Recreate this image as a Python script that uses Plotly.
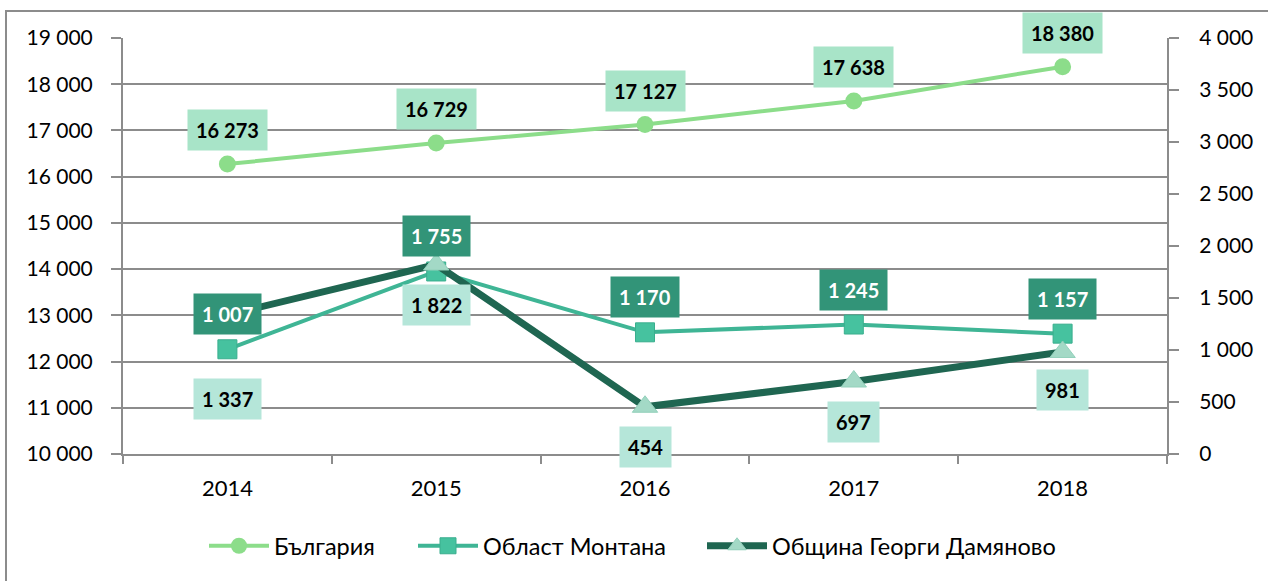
import plotly.graph_objects as go

years = ["2014", "2015", "2016", "2017", "2018"]
bulgaria = [16273, 16729, 17127, 17638, 18380]
montana = [1007, 1755, 1170, 1245, 1157]
damyanovo = [1337, 1822, 454, 697, 981]

names = ["България", "Област Монтана", "Община Георги Дамяново"]

# label offsets (px) relative to points
off_bg = [34, 34, 34, 34, 34]
off_mo = [35, 35, 35, 35, 35]
off_da = [-84, -40, -40, -40, -38]

FONT = "Lato"
GRID = "#8C8C8C"

def fmt(v):
    return f"{v:,}".replace(",", " ")

L, R, T, B = 123, 101, 38, 127
W, H = 1268, 581
pw, ph = W - L - R, H - T - B

def px_x(p):
    return (p - L) / pw

def px_y(p):
    return (H - B - p) / ph

fig = go.Figure()
fig.add_trace(go.Scatter(
    x=years, y=bulgaria, name=names[0], mode="lines+markers", legend="legend",
    line=dict(color="#8CDD8A", width=4),
    marker=dict(symbol="circle", size=17, color="#8CDD8A"),
))
fig.add_trace(go.Scatter(
    x=years, y=montana, name=names[1], mode="lines+markers", yaxis="y2", legend="legend2",
    line=dict(color="#3FB595", width=4),
    marker=dict(symbol="square", size=19, color="#46C29F",
                line=dict(color="#3AAE8E", width=1)),
))
fig.add_trace(go.Scatter(
    x=years, y=damyanovo, name=names[2], mode="lines+markers", yaxis="y2", legend="legend3",
    line=dict(color="#1F6651", width=7),
    marker=dict(symbol="triangle-up", size=22, color="#A3D9C6",
                line=dict(color="#93D0BB", width=1)),
))

ann = []
for i in range(len(years)):
    ann.append(dict(x=i, y=bulgaria[i], xref="x", yref="y", text=f"<b>{fmt(bulgaria[i])}</b>",
                    showarrow=False, yshift=off_bg[i], bgcolor="#A8E4C8",
                    font=dict(family=FONT, size=20, color="black"), borderpad=8))
    ann.append(dict(x=i, y=montana[i], xref="x", yref="y2", text=f"<b>{fmt(montana[i])}</b>",
                    showarrow=False, yshift=off_mo[i], bgcolor="#329478",
                    font=dict(family=FONT, size=20, color="white"), borderpad=8))
    ann.append(dict(x=i, y=damyanovo[i], xref="x", yref="y2", text=f"<b>{fmt(damyanovo[i])}</b>",
                    showarrow=False, yshift=off_da[i], bgcolor="#B5E6D9",
                    font=dict(family=FONT, size=20, color="black"), borderpad=8))

leg_common = dict(orientation="h", xanchor="left", yanchor="middle", y=px_y(546),
                  font=dict(family=FONT, size=23.5, color="black"), itemwidth=60,
                  bgcolor="rgba(0,0,0,0)")

fig.update_layout(
    width=W, height=H,
    margin=dict(l=L, r=R, t=T, b=B, autoexpand=False),
    paper_bgcolor="white", plot_bgcolor="white",
    font=dict(family=FONT, size=23, color="black"),
    separators=", ",
    showlegend=True,
    legend=dict(x=px_x(204), **leg_common),
    legend2=dict(x=px_x(413), **leg_common),
    legend3=dict(x=px_x(702), **leg_common),
    xaxis=dict(type="category", range=[-0.5, 4.5], showline=True, linecolor=GRID, linewidth=2,
               ticks="outside", tickson="boundaries", ticklen=8, tickcolor=GRID, tickwidth=2,
               showgrid=False, tickfont=dict(size=22), ticklabelstandoff=14),
    yaxis=dict(range=[10000, 19000], dtick=1000, tickformat=",d", showline=True,
               linecolor=GRID, linewidth=2, ticks="outside", ticklen=10, tickcolor=GRID,
               tickwidth=2, showgrid=True, gridcolor=GRID, gridwidth=2, zeroline=False,
               ticklabelstandoff=14, tickfont=dict(size=21)),
    yaxis2=dict(range=[0, 4000], dtick=500, tickformat=",d", overlaying="y", side="right",
                showline=True, linecolor=GRID, linewidth=2, ticks="outside", ticklen=10,
                tickcolor=GRID, tickwidth=2, showgrid=False, zeroline=False,
                ticklabelstandoff=16, tickfont=dict(size=21)),
    annotations=ann,
    shapes=[dict(type="rect", xref="paper", yref="paper",
                 x0=px_x(6), x1=px_x(W + 20),
                 y0=px_y(H + 20), y1=px_y(11),
                 line=dict(color=GRID, width=2), fillcolor="rgba(0,0,0,0)", layer="below")],
)

fig.write_html("out.html", config={"displayModeBar": False},
               post_script="document.body.style.margin='0';")
